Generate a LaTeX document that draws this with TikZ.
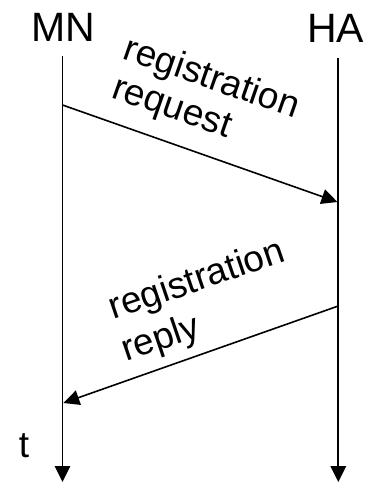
\documentclass[tikz,border=0pt]{standalone}
\usepackage{fontspec}
\setmainfont{Liberation Sans}
\usetikzlibrary{arrows.meta}
\begin{document}
\begin{tikzpicture}[x=1pt,y=1pt,
  lifeline/.style={line width=1.8pt,-{Triangle[length=16pt,width=15.5pt]}},
  msg/.style={line width=1.6pt,-{Triangle[length=16pt,width=15pt]}},
  title/.style={inner sep=0pt,anchor=base,font=\fontsize{41}{47}\selectfont},
  lbl/.style={inner sep=0pt,anchor=base west,font=\fontsize{37}{42}\selectfont}]
\useasboundingbox (0,0) rectangle (366,-484);
\node[title] (MN) at (63.5,-41.5) {MN};
\node[title] (HA) at (335.5,-43) {HA};
\coordinate (mnTop) at (62.5,-56);
\coordinate (mnEnd) at (62.5,-482);
\coordinate (haTop) at (338.3,-58);
\coordinate (haEnd) at (338.3,-482);
\coordinate (reqS) at (62.5,-105);
\coordinate (reqE) at (337.5,-202);
\coordinate (repS) at (338.3,-306);
\coordinate (repE) at (63.3,-403);
\draw[lifeline] (mnTop) -- (mnEnd);
\draw[lifeline] (haTop) -- (haEnd);
\draw[msg] (reqS) -- (reqE);
\draw[msg] (repS) -- (repE);
\node[lbl,rotate=-19.2] (req1) at (121.6,-58.2) {registration};
\node[lbl,rotate=-19.2] (req2) at (110,-97) {request};
\node[lbl,rotate=18.8] (rep1) at (113.5,-320) {registration};
\node[lbl,rotate=18.8] (rep2) at (126,-362) {reply};
\node[title,font=\fontsize{37}{42}\selectfont] (t) at (24,-457) {t};
\end{tikzpicture}
\end{document}
